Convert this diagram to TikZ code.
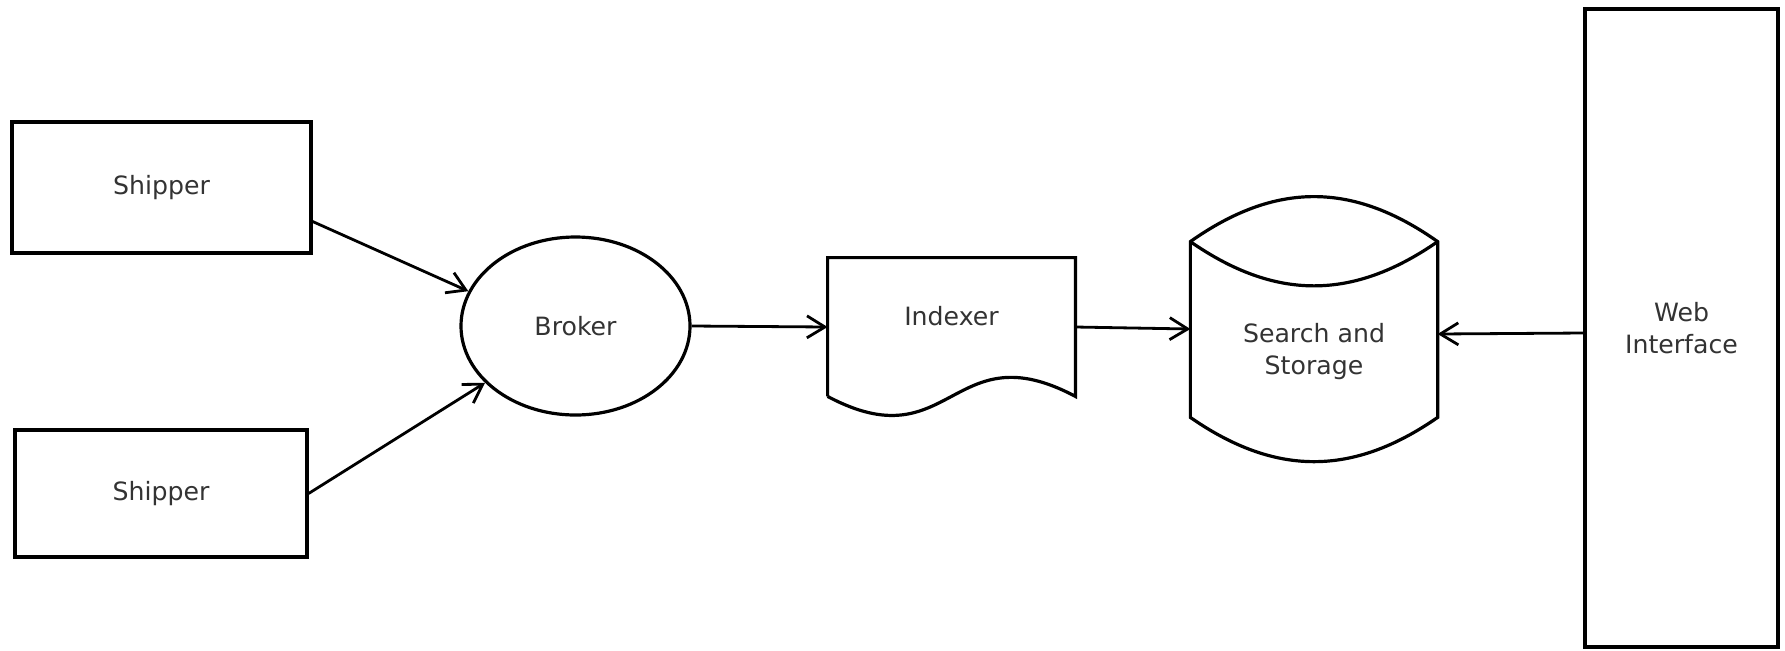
\documentclass[tikz,border=0pt]{standalone}
\usepackage{fontspec}
\setmainfont{DejaVu Sans}
\usetikzlibrary{shapes.geometric,arrows.meta,calc}

\begin{document}
\begin{tikzpicture}[x=0.5pt, y=-0.5pt, font=\fontsize{12.6}{16}\selectfont, text=black!80,
  box/.style={draw=black, line width=1.6pt, minimum width=146pt, minimum height=63.5pt, inner sep=0pt, align=center},
  blob/.style={ellipse, draw=black, line width=1.6pt, minimum width=114.5pt, minimum height=89pt, inner sep=0pt},
  docbox/.style={minimum width=123.5pt, minimum height=69pt, inner sep=0pt, text depth=11.5pt},
  drum/.style={minimum width=123.25pt, minimum height=132pt, inner sep=0pt, align=center},
  outline/.style={draw=black, line width=1.6pt},
  flow/.style={draw=black, line width=1.4pt, -{Straight Barb[length=9pt, width=11pt]}}]
  \useasboundingbox (0,0) rectangle (1785,650);

  % sources
  \node[box, minimum width=149.5pt, minimum height=65.5pt] (shp1) at (161.5,187.5) {Shipper};
  \node[box] (shp2) at (161,493.5) {Shipper};

  \node[blob] (broker) at (575.5,326) {Broker};

  % document shape, outline drawn below
  \node[docbox] (idx) at (951.5,327) {Indexer};
  \draw[outline] (idx.south west) -- (idx.north west) -- (idx.north east) -- (idx.south east)
    .. controls ($(idx.south)+(0,-66)$) and ($(idx.south)+(0,66)$) .. (idx.south west);

  % storage drum
  \node[drum] (store) at (1314,329) {\rule{0pt}{32pt}Search and\\Storage};
  \draw[outline] ($(store.north west)+(0,45)$)
    .. controls ($(store.north west)+(85,-15)$) and ($(store.north east)+(-85,-15)$) .. ($(store.north east)+(0,45)$)
    -- ($(store.south east)+(0,-44)$)
    .. controls ($(store.south east)+(-85,15)$) and ($(store.south west)+(85,15)$) .. ($(store.south west)+(0,-44)$)
    -- cycle;
  \draw[outline] ($(store.north west)+(0,45)$)
    .. controls ($(store.north west)+(85,104)$) and ($(store.north east)+(-85,104)$) .. ($(store.north east)+(0,45)$);

  \node[box, minimum width=96.5pt, minimum height=319pt] (web) at (1681.5,328) {Web\\Interface};

  % connectors
  \draw[flow] ([yshift=-17pt]shp1.east) -- (broker.162);
  \draw[flow] (shp2.east) -- (broker);
  \draw[flow] (broker.east) -- (idx.west);
  \draw[flow] (idx.east) -- (store.west);
  \draw[flow] ([yshift=-2.5pt]web.west) -- ([yshift=-2.5pt]store.east);
\end{tikzpicture}
\end{document}
